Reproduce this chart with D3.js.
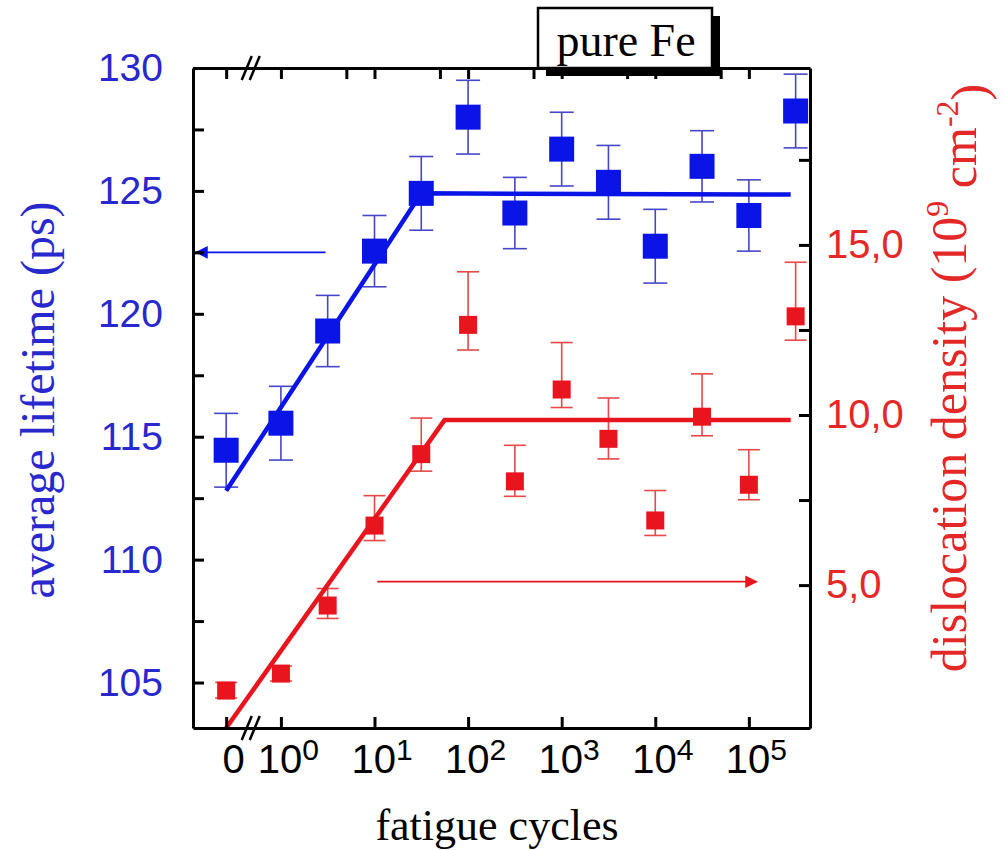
<!DOCTYPE html>
<html>
<head>
<meta charset="utf-8">
<script src="https://cdn.jsdelivr.net/npm/d3@7"></script>
<style>
  body { margin: 0; background: #fff; }
  .tick line { stroke: #000; stroke-width: 3px; }
</style>
</head>
<body>
<div id="chart"></div>
<script>
// fatigue cycles of each measurement (0 = unfatigued reference)
var cycles = [0, 1, 3.16, 10, 31.6, 100, 316, 1000, 3160, 10000, 31600, 100000, 316000];
// average positron lifetime (ps), left axis
var lifetime    = [114.45, 115.55, 119.3, 122.55, 124.9, 128.0, 124.1, 126.7, 125.35, 122.75, 126.0, 124.0, 128.25];
var lifetimeErr = [1.5, 1.5, 1.45, 1.45, 1.5, 1.5, 1.45, 1.5, 1.5, 1.5, 1.45, 1.45, 1.5];
// dislocation density (10^9 cm^-2), right axis
var density     = [1.9, 2.4, 4.4, 6.75, 8.85, 12.65, 8.05, 10.75, 9.3, 6.9, 9.95, 7.95, 12.9];
var densityUp   = [0.24, 0.22, 0.5, 0.88, 1.06, 1.56, 1.06, 1.38, 1.2, 0.88, 1.26, 1.03, 1.59];
var densityDown = [0.22, 0.22, 0.38, 0.44, 0.5, 0.74, 0.44, 0.53, 0.59, 0.44, 0.56, 0.44, 0.7];
// piecewise fits: [cycles, value]
var lifetimeFit = [[0, 112.8], [31.6, 124.9], [280000, 124.85]];
var densityFit  = [[0, 0.8], [56, 9.85], [280000, 9.85]];

var xTicks     = [0, 1, 10, 100, 1000, 10000, 100000];
var xTopTicks  = [0, 1, 5, 10, 50, 100, 500, 1000, 5000, 10000, 50000, 100000];
var leftTicks  = [105, 107.5, 110, 112.5, 115, 117.5, 120, 122.5, 125, 127.5, 130];
var rightTicks = [5, 7.5, 10, 12.5, 15, 17.5];

var width = 1004, height = 850;
var plotL = 193, plotR = 810, plotT = 68, plotB = 728;
var zeroAt = 0.26;   // where "0 cycles" sits on the broken log axis
var breakAt = 0.5;

var blue = "#0a14e6", blueText = "#2828cc", blueErr = "#4646c8";
var red = "#e8141e", redText = "#e42828", redErr = "#e84848";

var x = d3.scaleLog().domain([0.115, 4.5e5]).range([plotL, plotR]);
var xc = c => x(c === 0 ? zeroAt : c);
var yL = d3.scaleLinear().domain([103.15, 130]).range([plotB, plotT]);
var yR = d3.scaleLinear().domain([0.8, 20.2]).range([plotB, plotT]);

var svg = d3.select("#chart").append("svg")
    .attr("width", width)
    .attr("height", height);

var tickFont = "'Liberation Sans', Arial, sans-serif";
var serif = "'Liberation Serif', 'Times New Roman', serif";

// error bars
function errBars(cls, vals, up, down, y, color, cap) {
    var g = svg.append("g").attr("class", cls)
        .attr("stroke", color).attr("stroke-width", 1.6);
    cycles.forEach(function (c, i) {
        var cx = xc(c), y1 = y(vals[i] + up[i]), y2 = y(vals[i] - down[i]);
        g.append("line").attr("x1", cx).attr("x2", cx).attr("y1", y1).attr("y2", y2);
        g.append("line").attr("x1", cx - cap).attr("x2", cx + cap).attr("y1", y1).attr("y2", y1);
        g.append("line").attr("x1", cx - cap).attr("x2", cx + cap).attr("y1", y2).attr("y2", y2);
    });
}
errBars("err-blue", lifetime, lifetimeErr, lifetimeErr, yL, blueErr, 12);
errBars("err-red", density, densityUp, densityDown, yR, redErr, 11);

// fit lines
svg.append("clipPath").attr("id", "plotClip")
    .append("rect").attr("x", plotL).attr("y", plotT)
    .attr("width", plotR - plotL).attr("height", plotB - plotT);

svg.append("path")
    .datum(lifetimeFit)
    .attr("d", d3.line().x(d => xc(d[0])).y(d => yL(d[1])))
    .attr("fill", "none").attr("stroke", blue).attr("stroke-width", 4.5);

svg.append("path")
    .datum(densityFit)
    .attr("d", d3.line().x(d => xc(d[0])).y(d => yR(d[1])))
    .attr("clip-path", "url(#plotClip)")
    .attr("fill", "none").attr("stroke", red).attr("stroke-width", 4.5);

// markers
var bs = 25, rs = 18;
svg.append("g").selectAll("rect")
    .data(cycles)
    .enter().append("rect")
    .attr("x", d => xc(d) - bs / 2)
    .attr("y", (d, i) => yL(lifetime[i]) - bs / 2)
    .attr("width", bs).attr("height", bs)
    .attr("fill", blue);

svg.append("g").selectAll("rect")
    .data(cycles)
    .enter().append("rect")
    .attr("x", d => xc(d) - rs / 2)
    .attr("y", (d, i) => yR(density[i]) - rs / 2)
    .attr("width", rs).attr("height", rs)
    .attr("fill", red);

// arrows
var defs = svg.append("defs");
[["arrBlue", blue], ["arrRed", red]].forEach(function (m) {
    defs.append("marker").attr("id", m[0])
        .attr("viewBox", "0 0 10 10").attr("refX", 9).attr("refY", 5)
        .attr("markerWidth", 9).attr("markerHeight", 7)
        .attr("markerUnits", "strokeWidth")
        .attr("orient", "auto")
      .append("path").attr("d", "M0,0L10,5L0,10Z").attr("fill", m[1]);
});
svg.append("line")
    .attr("x1", x(3)).attr("x2", x(0.125))
    .attr("y1", yL(122.5)).attr("y2", yL(122.5))
    .attr("stroke", blue).attr("stroke-width", 1.8)
    .attr("marker-end", "url(#arrBlue)");
svg.append("line")
    .attr("x1", x(10.7)).attr("x2", x(121000))
    .attr("y1", yR(5.1)).attr("y2", yR(5.1))
    .attr("stroke", red).attr("stroke-width", 1.8)
    .attr("marker-end", "url(#arrRed)");

// axes
var axL = svg.append("g")
    .attr("transform", "translate(" + plotL + ",0)")
    .call(d3.axisLeft(yL).tickValues(leftTicks).tickSize(-11).tickSizeOuter(0).tickPadding(30)
        .tickFormat(d => d % 5 === 0 ? d : ""));
axL.selectAll("text").attr("fill", blueText).style("font-family", tickFont).style("font-size", "39px");

var axR = svg.append("g")
    .attr("transform", "translate(" + plotR + ",0)")
    .call(d3.axisRight(yR).tickValues(rightTicks).tickSize(-11).tickSizeOuter(0).tickPadding(16)
        .tickFormat(d => d % 5 === 0 ? d.toFixed(1).replace(".", ",") : ""));
axR.selectAll("text").attr("fill", redText).style("font-family", tickFont).style("font-size", "40px");

var axB = svg.append("g")
    .attr("transform", "translate(0," + plotB + ")")
    .call(d3.axisBottom(x).tickValues(xTicks.map(c => c === 0 ? zeroAt : c))
        .tickSize(-11).tickSizeOuter(0).tickPadding(17).tickFormat(""));
axB.selectAll(".tick text").each(function (d, i) {
    var t = d3.select(this).style("font-family", tickFont).style("font-size", "40px")
        .attr("fill", "#000").attr("dx", 7);
    if (xTicks[i] === 0) { t.text("0"); return; }
    t.append("tspan").text("10");
    t.append("tspan").attr("dy", -13).style("font-size", "30px").text(Math.round(Math.log10(xTicks[i])));
});

svg.append("g")
    .attr("transform", "translate(0," + plotT + ")")
    .call(d3.axisTop(x).tickValues(xTopTicks.map(c => c === 0 ? zeroAt : c))
        .tickSize(-11).tickSizeOuter(0).tickFormat(""));

svg.selectAll(".domain").attr("stroke", "#000").attr("stroke-width", 3);

// axis break marks
[plotB, plotT].forEach(function (yy) {
    var bx = x(breakAt);
    var g = svg.append("g").attr("stroke", "#000").attr("stroke-width", 2.5);
    g.append("line").attr("x1", bx - 11).attr("x2", bx - 1).attr("y1", yy + 12).attr("y2", yy - 12);
    g.append("line").attr("x1", bx - 3).attr("x2", bx + 7).attr("y1", yy + 12).attr("y2", yy - 12);
});

// axis titles
svg.append("text")
    .attr("transform", "translate(54,400) rotate(-90)")
    .attr("text-anchor", "middle")
    .style("font-family", serif).style("font-size", "48px")
    .attr("fill", blueText)
    .text("average lifetime (ps)");

var rt = svg.append("text")
    .attr("transform", "translate(966,378) rotate(-90)")
    .attr("text-anchor", "middle")
    .style("font-family", serif).style("font-size", "50px")
    .attr("fill", redText);
rt.append("tspan").text("dislocation density (10");
rt.append("tspan").attr("dy", "-0.55em").style("font-size", "32px").text("9");
rt.append("tspan").attr("dy", "0.55em").text(" cm");
rt.append("tspan").attr("dy", "-0.55em").style("font-size", "32px").text("-2");
rt.append("tspan").attr("dy", "0.55em").text(")");

svg.append("text")
    .attr("x", 497).attr("y", 840)
    .attr("text-anchor", "middle")
    .style("font-family", serif).style("font-size", "44px")
    .attr("fill", "#000")
    .text("fatigue cycles");

// sample label box
var box = svg.append("g").attr("transform", "translate(538,8)");
box.append("rect").attr("x", 8).attr("y", 8).attr("width", 174).attr("height", 60).attr("fill", "#000");
box.append("rect").attr("x", 0).attr("y", 0).attr("width", 174).attr("height", 60)
    .attr("fill", "#fff").attr("stroke", "#000").attr("stroke-width", 2.5);
box.append("text")
    .attr("x", 88).attr("y", 48)
    .attr("text-anchor", "middle")
    .style("font-family", serif).style("font-size", "46px")
    .text("pure Fe");
</script>
</body>
</html>
